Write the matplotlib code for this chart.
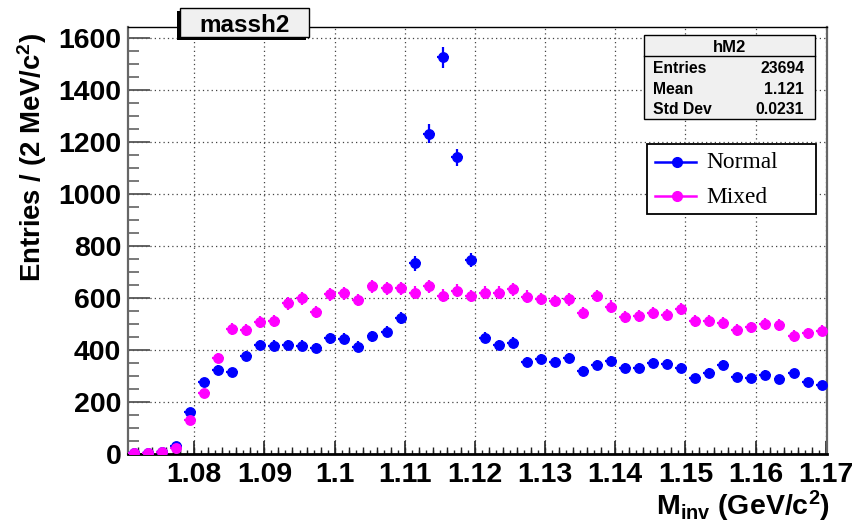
import numpy as np
import matplotlib
matplotlib.use("Agg")
import matplotlib.pyplot as plt
from matplotlib.patches import Rectangle
from matplotlib.lines import Line2D
from matplotlib.ticker import FixedLocator, MultipleLocator
from matplotlib.transforms import Affine2D

# ---- histogram binning -------------------------------------------------
bin_low = 1.0704
bin_width = 0.002

# ---- counts per bin ----------------------------------------------------
normal_counts = [1, 3, 6, 28, 160, 274, 321, 313, 375, 417,
                 415, 417, 415, 406, 444, 442, 411, 451, 469, 522,
                 731, 1231, 1524, 1139, 744, 445, 417, 426, 353, 362,
                 351, 366, 317, 340, 357, 330, 330, 347, 344, 330,
                 289, 311, 340, 293, 289, 302, 285, 308, 274, 263]

mixed_counts = [2, 3, 5, 20, 129, 234, 366, 479, 475, 507,
                511, 578, 597, 545, 612, 616, 590, 644, 635, 635,
                619, 644, 607, 627, 606, 619, 619, 632, 603, 594,
                587, 593, 542, 606, 565, 524, 529, 542, 533, 556,
                511, 511, 501, 475, 485, 498, 494, 452, 462, 472]

legend_labels = ["Normal", "Mixed"]
series_colors = ["#0000ff", "#ff00ff"]

hist_title = "massh2"
stats_title = "hM2"
stats_rows = [("Entries", "23694"), ("Mean", "1.121"), ("Std Dev", "0.0231")]

x_ticks = [1.08, 1.09, 1.10, 1.11, 1.12, 1.13, 1.14, 1.15, 1.16, 1.17]
x_tick_labels = ["1.08", "1.09", "1.1", "1.11", "1.12", "1.13", "1.14",
                 "1.15", "1.16", "1.17"]
y_ticks = [0, 200, 400, 600, 800, 1000, 1200, 1400, 1600]

x_label = r"$\mathbf{M}_{\mathbf{inv}}$ (GeV/c$^{\mathbf{2}}$)"
y_label = r"Entries / (2 MeV/c$^{\mathbf{2}}$)"

# ---- style -------------------------------------------------------------
plt.rcParams["font.family"] = ["Liberation Sans", "DejaVu Sans"]
plt.rcParams["font.weight"] = "bold"
plt.rcParams["mathtext.fontset"] = "custom"
plt.rcParams["mathtext.rm"] = "Liberation Sans:bold"
plt.rcParams["mathtext.bf"] = "Liberation Sans:bold"
plt.rcParams["mathtext.it"] = "Liberation Sans:bold:italic"

W, H = 859, 521
fig = plt.figure(figsize=(W / 100, H / 100), dpi=100)
fig.patch.set_facecolor("white")

# pixel coordinates measured from the top-left corner of the canvas
pix = Affine2D().scale(1.0 / W, -1.0 / H).translate(0, 1) + fig.transFigure

ax_left, ax_right, ax_top, ax_bottom = 128.3, 826.5, 26.7, 453.5
ax = fig.add_axes([ax_left / W, (H - ax_bottom) / H,
                   (ax_right - ax_left) / W, (ax_bottom - ax_top) / H])

centers = bin_low + bin_width * (np.arange(len(normal_counts)) + 0.5)

for counts, color in zip([normal_counts, mixed_counts], series_colors):
    counts = np.asarray(counts, dtype=float)
    ax.errorbar(centers, counts, yerr=np.sqrt(counts), xerr=0.00085,
                fmt="o", color=color, ms=6.8, mec=color, mfc=color,
                elinewidth=1.6, capsize=0, zorder=3)

ax.set_xlim(1.0706, 1.1701)
ax.set_ylim(0, 1642)

# axis ticks in the style of a ROOT frame
ax.xaxis.set_major_locator(FixedLocator(x_ticks))
ax.set_xticklabels(x_tick_labels)
ax.xaxis.set_minor_locator(MultipleLocator(0.001))
ax.yaxis.set_major_locator(FixedLocator(y_ticks))
ax.yaxis.set_minor_locator(MultipleLocator(50))

ax.tick_params(axis="x", which="major", direction="in", length=9.5,
               width=1.2, color="#222222", pad=6, labelsize=20.5)
ax.tick_params(axis="x", which="minor", direction="in", length=2.6,
               width=1.0, color="#222222")
ax.tick_params(axis="y", which="major", direction="in", length=16,
               width=1.3, color="#555555", pad=5, labelsize=20.5)
ax.tick_params(axis="y", which="minor", direction="in", length=8,
               width=1.1, color="#555555")
for lab in ax.get_xticklabels() + ax.get_yticklabels():
    lab.set_fontweight("bold")

# medium-length x ticks every 2 MeV
mid_ticks = np.arange(1.072, 1.1701, 0.002)
ax.vlines(mid_ticks, 0, 7.0 / (ax_bottom - ax_top),
          transform=ax.get_xaxis_transform(), color="#222222",
          lw=1.0, zorder=2)

ax.grid(True, which="major", linestyle=(0, (1, 2.5)), color="#444444",
        linewidth=0.9, zorder=0)
ax.set_axisbelow(True)

ax.spines["left"].set_color("#666666")
ax.spines["left"].set_linewidth(1.6)
ax.spines["right"].set_color("#666666")
ax.spines["right"].set_linewidth(1.6)
ax.spines["bottom"].set_color("black")
ax.spines["bottom"].set_linewidth(2.0)
ax.spines["top"].set_color("black")
ax.spines["top"].set_linewidth(1.0)

# axis titles
fig.text(32.5, 33, y_label, transform=pix, rotation=90, ha="center",
         va="top", fontsize=19.8, fontweight="bold")
fig.text(830, 515.7, x_label, transform=pix, ha="right", va="baseline",
         fontsize=20.5, fontweight="bold")

# histogram title box with shadow
fig.add_artist(Rectangle((177.0, 10.8), 129.0, 29.0, transform=pix,
                         facecolor="black", edgecolor="black", lw=0))
fig.add_artist(Rectangle((180.0, 8.3), 129.0, 29.0, transform=pix,
                         facecolor="#f0f0f0", edgecolor="black", lw=1.0))
fig.text(244.5, 32.3, hist_title, transform=pix, ha="center",
         va="baseline", fontsize=17.5, fontweight="bold")

# statistics box
sx0, sx1, sy0, sy1 = 644.3, 815.0, 35.0, 119.0
fig.add_artist(Rectangle((sx0, sy0), sx1 - sx0, sy1 - sy0, transform=pix,
                         facecolor="#f0f0f0", edgecolor="black", lw=1.0))
fig.add_artist(Line2D([sx0, sx1], [56.0, 56.0], transform=pix,
                      color="black", lw=1.0))
fig.text((sx0 + sx1) / 2, 51.7, stats_title, transform=pix, ha="center",
         va="baseline", fontsize=12, fontweight="bold")
for (name, value), base in zip(stats_rows, [72.7, 94.0, 114.3]):
    fig.text(652.7, base, name, transform=pix, ha="left", va="baseline",
             fontsize=11.3, fontweight="bold")
    fig.text(804.3, base, value, transform=pix, ha="right", va="baseline",
             fontsize=11.3, fontweight="bold")

# legend box
lx0, lx1, ly0, ly1 = 646.7, 816.0, 144.0, 214.3
fig.add_artist(Rectangle((lx0, ly0), lx1 - lx0, ly1 - ly0, transform=pix,
                         facecolor="white", edgecolor="black", lw=1.3))
for label, color, yc, base in zip(legend_labels, series_colors,
                                  [161.7, 195.7], [168.3, 203.3]):
    fig.add_artist(Line2D([655, 696], [yc, yc], transform=pix, color=color,
                          lw=1.8))
    fig.add_artist(Line2D([676.7], [yc], transform=pix, color=color,
                          marker="o", ms=7, mfc=color, mec=color))
    fig.text(706, base, label, transform=pix, ha="left", va="baseline",
             fontsize=16.8, fontweight="normal",
             family=["Liberation Serif", "DejaVu Serif"])

fig.savefig("out.png", dpi=100)
